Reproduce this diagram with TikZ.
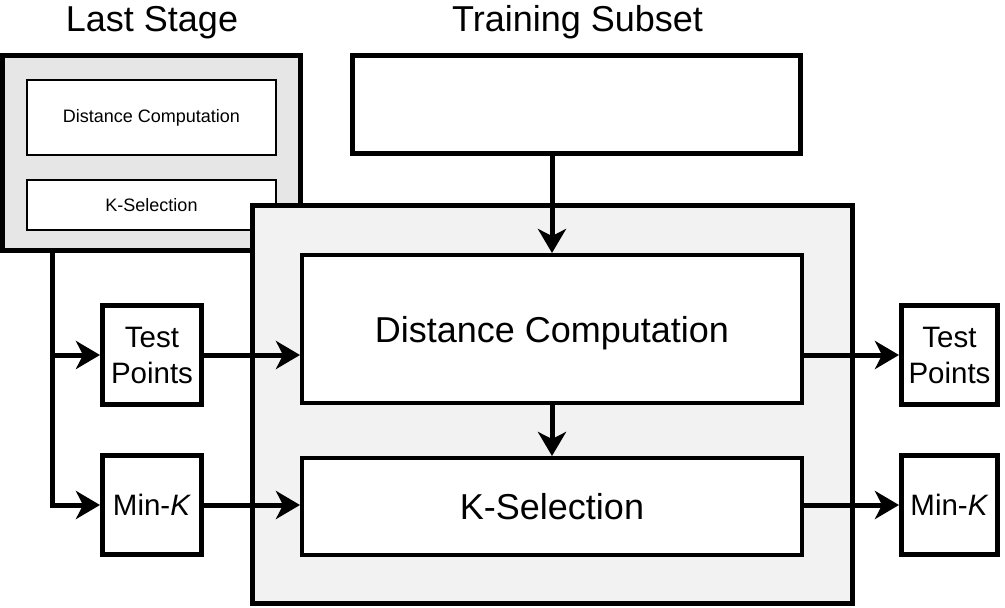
\documentclass[tikz,border=0pt]{standalone}
\usepackage{fontspec}
\setmainfont{Liberation Sans}
\usetikzlibrary{arrows.meta}
\begin{document}
\begin{tikzpicture}[x=1pt,y=-1pt,
  thickbox/.style={draw=black, rectangle, line width=5pt, fill=white, inner sep=0pt, align=center},
  midbox/.style={draw=black, rectangle, line width=4pt, fill=white, inner sep=0pt, align=center},
  thinbox/.style={draw=black, rectangle, line width=2.5pt, fill=white, inner sep=0pt, align=center},
  bigfont/.style={font=\fontsize{36}{43}\selectfont},
  midfont/.style={font=\fontsize{29.5}{36}\selectfont},
  smallfont/.style={font=\fontsize{18}{22}\selectfont},
  arr/.style={line width=5pt, line join=miter, -{Stealth[length=24pt,width=28pt,inset=7pt]}}
]
\useasboundingbox (0,0) rectangle (1005,608);

% titles
\node[bigfont, inner sep=0pt] (tls) at (152,22.5) {Last Stage};
\node[bigfont, inner sep=0pt] (tts) at (577.5,22.5) {Training Subset};

% last stage
\node[thickbox, fill={rgb,255:red,230;green,230;blue,230}, minimum width=298pt, minimum height=195pt] (LS) at (151.5,153) {};
\node[thinbox, smallfont, minimum width=249pt, minimum height=75pt] (lsdc) at (151.5,117.5) {Distance Computation};
\node[thinbox, smallfont, minimum width=249pt, minimum height=50pt] (lsks) at (151.5,205) {K-Selection};

% training subset
\node[thickbox, minimum width=448pt, minimum height=98pt] (TS) at (576.5,104.5) {};

% big box
\node[thickbox, fill={rgb,255:red,242;green,242;blue,242}, minimum width=600pt, minimum height=398pt] (BB) at (552.5,404.5) {};
\node[midbox, bigfont, text depth=0pt, minimum width=500pt, minimum height=148pt] (DC) at (552,329) {Distance Computation};
\node[midbox, bigfont, minimum width=500pt, minimum height=97pt] (KS) at (552,506.5) {K-Selection};

% small boxes
\node[thickbox, midfont, minimum width=99pt, minimum height=99pt] (TPL) at (152,355) {Test\\Points};
\node[thickbox, midfont, minimum width=99pt, minimum height=99pt] (MKL) at (152,505) {Min-\textit{K}};
\node[thickbox, midfont, minimum width=96pt, minimum height=99pt] (TPR) at (949.5,355) {Test\\Points};
\node[thickbox, midfont, minimum width=96pt, minimum height=99pt] (MKR) at (949.5,505) {Min-\textit{K}};

% connectors
\coordinate (j1) at (52.5,505);
\draw[arr] (LS.south -| j1) |- (MKL.west);
\draw[arr] (j1 |- TPL.west) -- (TPL.west);
\draw[arr] (TPL.east) -- (DC.west |- TPL.east);
\draw[arr] (MKL.east) -- (KS.west |- MKL.east);
\draw[arr] (DC.north |- TS.south) -- (DC.north);
\draw[arr] (DC.south) -- (KS.north);
\draw[arr] (DC.east |- TPR.west) -- (TPR.west);
\draw[arr] (KS.east |- MKR.west) -- (MKR.west);
\end{tikzpicture}
\end{document}
